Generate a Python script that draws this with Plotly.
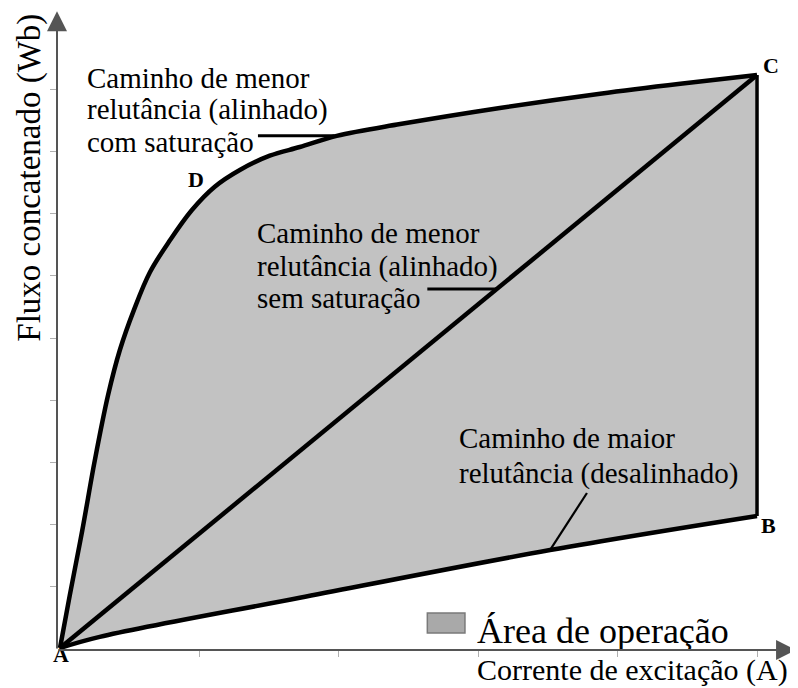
import plotly.graph_objects as go

# Curva de magnetização - posição alinhada (com saturação), A -> D -> C
sat_current = [0, 0.14, 0.32, 0.50, 0.69, 0.86, 1.06, 1.29, 1.58, 1.89, 2.22,
               2.58, 3.01, 3.44, 3.97, 4.88, 6.31, 7.75, 8.90, 10.0]
sat_flux = [0, 0.85, 1.90, 3.03, 4.08, 4.81, 5.45, 6.06, 6.58, 7.06, 7.44,
            7.71, 7.94, 8.08, 8.26, 8.45, 8.71, 8.94, 9.10, 9.24]

# Posição desalinhada, A -> B
unal_current = [0, 0.57, 3.44, 7.03, 10.0]
unal_flux = [0, 0.18, 0.81, 1.58, 2.13]

# Alinhada sem saturação, A -> C
lin_current = [0, 10.0]
lin_flux = [0, 9.24]

x_ticks = [2, 4, 6, 8, 10]
y_ticks = [1, 2, 3, 4, 5, 6, 7, 8, 9]

X_RANGE = [-0.043, 10.588]
Y_RANGE = [-0.032, 10.29]

SERIF = "Liberation Serif"
SPLINE = dict(shape="spline", smoothing=1.0)

fig = go.Figure()

# Área de operação: preenchimento entre a curva desalinhada e a saturada
fig.add_trace(
    go.Scatter(
        x=unal_current, y=unal_flux, mode="lines",
        line=dict(width=0, **SPLINE), hoverinfo="skip", showlegend=False,
    )
)
fig.add_trace(
    go.Scatter(
        x=sat_current, y=sat_flux, mode="lines", fill="tonexty",
        fillcolor="#c2c2c2", line=dict(width=0, **SPLINE),
        hoverinfo="skip", showlegend=False,
    )
)

# B -> C vertical
fig.add_trace(
    go.Scatter(
        x=[unal_current[-1], sat_current[-1]],
        y=[unal_flux[-1], sat_flux[-1]],
        mode="lines",
        line=dict(color="black", width=3.5),
        showlegend=False,
    )
)

for xs, ys in [(sat_current, sat_flux), (unal_current, unal_flux), (lin_current, lin_flux)]:
    fig.add_trace(
        go.Scatter(
            x=xs, y=ys, mode="lines",
            line=dict(color="black", width=4.5, **SPLINE),
            showlegend=False,
        )
    )

# linhas de chamada
leaders = [
    ([2.84, 3.94], [8.26, 8.26], 3),
    ([5.27, 6.27], [5.79, 5.79], 3),
    ([7.56, 7.03], [2.50, 1.58], 2.2),
]
for lx, ly, w in leaders:
    fig.add_shape(type="line", x0=lx[0], y0=ly[0], x1=lx[1], y1=ly[1],
                  line=dict(color="black", width=w))

# legenda
fig.add_shape(type="rect", x0=5.27, y0=0.242, x1=5.81, y1=0.565,
              fillcolor="#a9a9a9", line=dict(color="#7a7a7a", width=1.5))

annotations = []


def text(t, x, y, size=29, anchor="left", ref="x", **kw):
    annotations.append(dict(
        text=t, x=x, y=y, xref=ref, yref=ref.replace("x", "y"), showarrow=False,
        xanchor=anchor, yanchor="middle",
        font=dict(family=SERIF, size=size, color="black"), **kw))


text("Caminho de menor", 0.36, 9.19)
text("relutância (alinhado)", 0.36, 8.68)
text("com saturação", 0.36, 8.16)

text("Caminho de menor", 2.80, 6.69)
text("relutância (alinhado)", 2.80, 6.15)
text("sem saturação", 2.80, 5.64)

text("Caminho de maior", 5.70, 3.38)
text("relutância (desalinhado)", 5.70, 2.81)

text("Área de operação", 5.95, 0.27, size=36)

text("<b>B</b>", 10.17, 1.98, size=22, anchor="center")
text("<b>C</b>", 10.20, 9.40, size=22, anchor="center")
text("<b>D</b>", 1.95, 7.55, size=22, anchor="center")

# textos fora da área do gráfico
text("<b>A</b>", 0.0054, -0.0078, size=22, anchor="center", ref="paper")
text("Corrente de excitação (A)", 0.777, -0.031, size=30, anchor="center", ref="paper")
text("Fluxo concatenado (Wb)", -0.0364, 0.738, size=33, anchor="center", ref="paper",
     textangle=-90)

# eixos com setas
for hx, hy in [(X_RANGE[0], 10.27), (10.56, Y_RANGE[0])]:
    annotations.append(dict(
        x=hx, y=hy, ax=X_RANGE[0], ay=Y_RANGE[0],
        xref="x", yref="y", axref="x", ayref="y",
        text="", showarrow=True, arrowhead=2, arrowsize=2,
        arrowwidth=2, arrowcolor="#555555"))

fig.update_layout(
    width=790,
    height=680,
    margin=dict(l=49, r=0, t=2, b=38),
    plot_bgcolor="white",
    paper_bgcolor="white",
    annotations=annotations,
    xaxis=dict(
        range=X_RANGE, showgrid=False, zeroline=False, showline=False,
        tickmode="array", tickvals=x_ticks, showticklabels=False,
        ticks="outside", ticklen=6, tickcolor="#b0b0b0", tickwidth=1,
    ),
    yaxis=dict(
        range=Y_RANGE, showgrid=False, zeroline=False, showline=False,
        tickmode="array", tickvals=y_ticks, showticklabels=False,
        ticks="outside", ticklen=6, tickcolor="#b0b0b0", tickwidth=1,
    ),
)

fig.write_html("out.html")
